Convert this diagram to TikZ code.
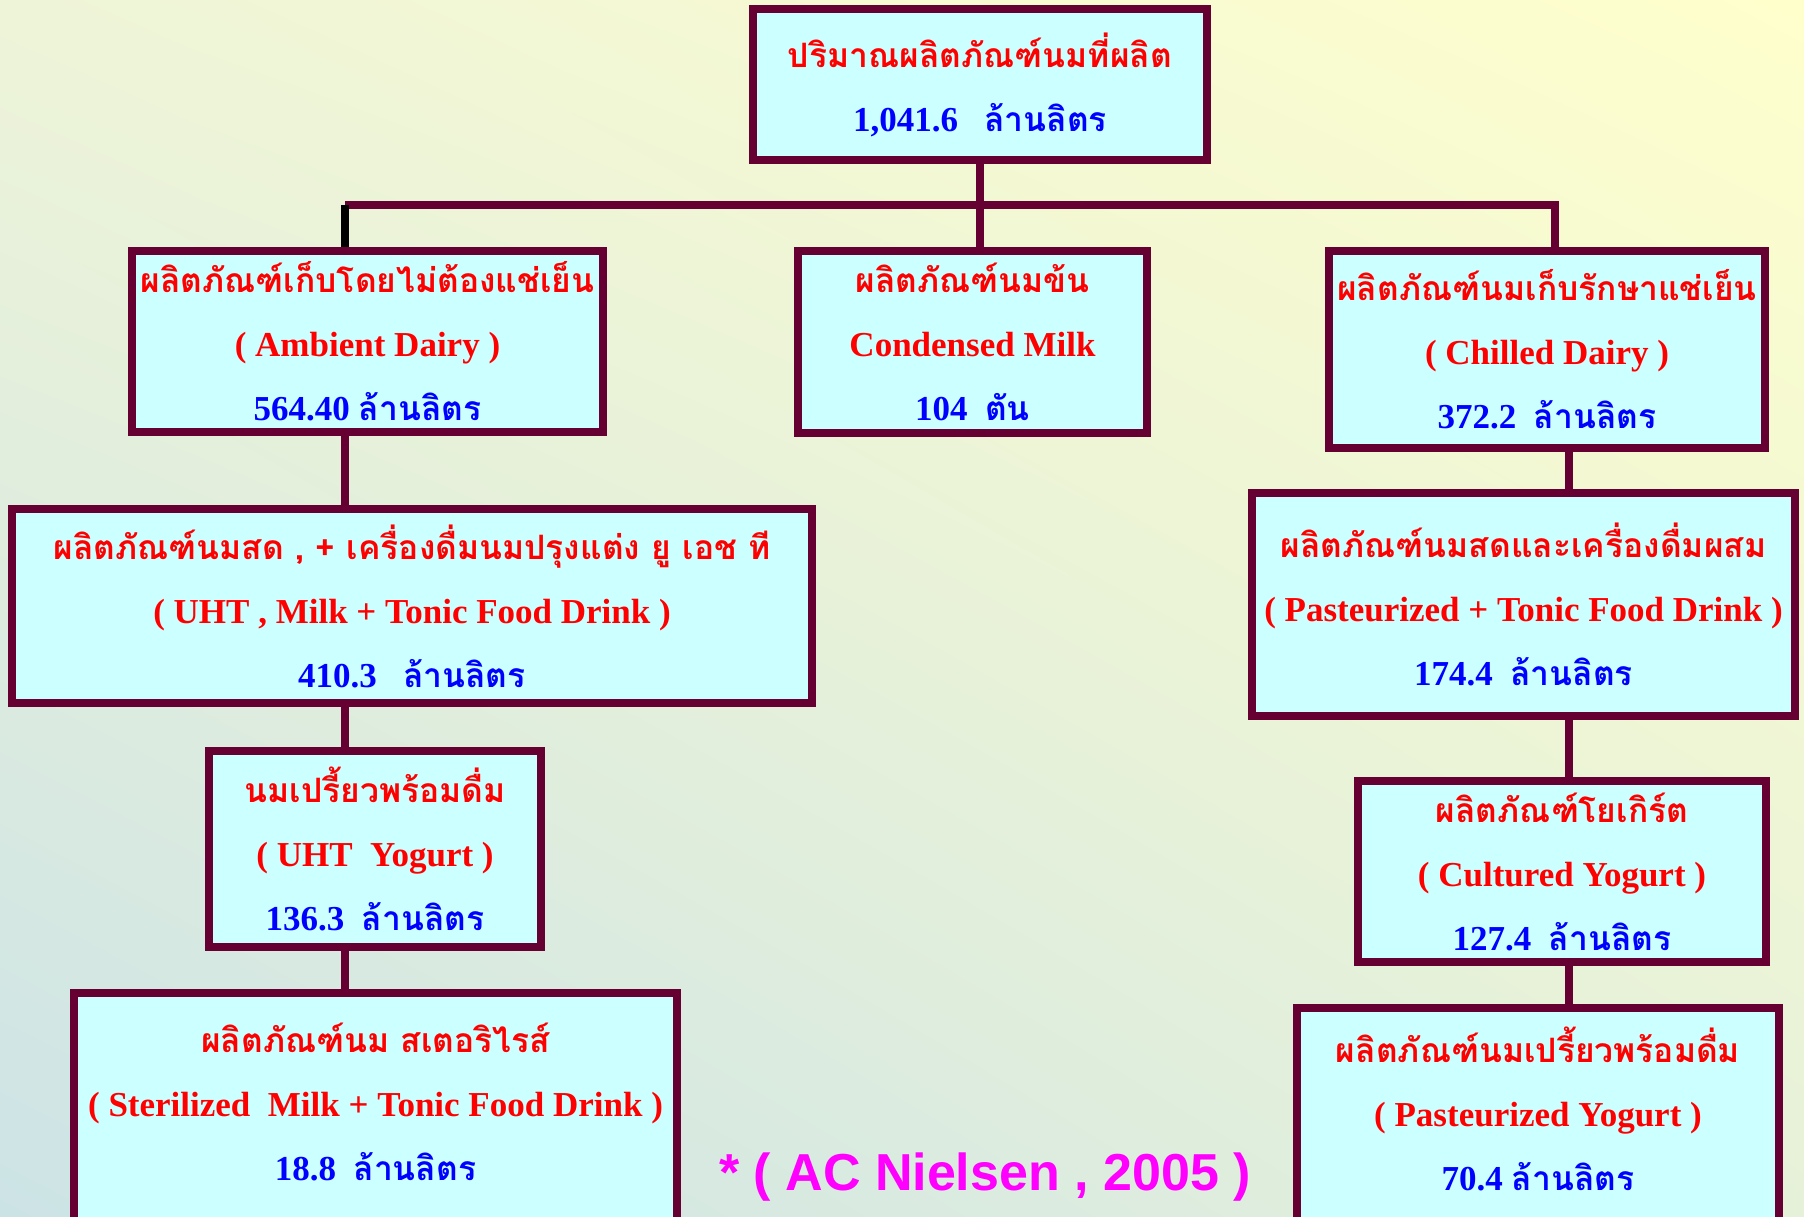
\documentclass[tikz,border=0pt]{standalone}
\usepackage{fontspec}
\usetikzlibrary{shadings}
\setmainfont{Liberation Serif}
\newfontfamily\thaifont[Script=Thai,Scale=0.96]{Loma}
\newfontfamily\citefont{Liberation Sans}

\definecolor{boxline}{HTML}{660033}
\definecolor{boxfill}{HTML}{CCFFFF}
\definecolor{namered}{HTML}{FF0000}
\definecolor{amountblue}{HTML}{0000FF}
\definecolor{citemagenta}{HTML}{FF00FF}
\definecolor{bgul}{HTML}{EEF4D8}
\definecolor{bgur}{HTML}{FFFFCC}
\definecolor{bgll}{HTML}{CCE3E6}
\definecolor{bglr}{HTML}{E6F1DA}

\newcommand\thname[1]{{\color{namered}\thaifont #1}}
\newcommand\enname[1]{{\color{namered}#1}}
\newcommand\amount[2]{{\color{amountblue}#1\thaifont #2}}

\tikzset{
  prodbox/.style={draw=boxline, fill=boxfill, line width=8pt, inner sep=0pt,
    align=center, font=\bfseries\fontsize{35}{64}\selectfont},
  link/.style={draw=boxline, line width=8pt},
}

\begin{document}
\begin{tikzpicture}[x=1pt,y=-1pt]

        \shade[upper left=bgul, upper right=bgur, lower left=bgll, lower right=bglr]
          (0,0) rectangle (1804,1217);
        \useasboundingbox (0,0) rectangle (1804,1217);

        % total
        \node[prodbox, minimum width=454pt, minimum height=151pt] (top) at (980,84.5)
          {\thname{ปริมาณผลิตภัณฑ์นมที่ผลิต}\\ \amount{1,041.6\ \ \ }{ล้านลิตร}};

        % second level
        \node[prodbox, minimum width=471pt, minimum height=181pt] (amb) at (367.5,341.5)
          {\thname{ผลิตภัณฑ์เก็บโดยไม่ต้องแช่เย็น}\\ \enname{( Ambient Dairy )}\\ \amount{564.40 }{ล้านลิตร}};
        \node[prodbox, minimum width=349pt, minimum height=182pt] (cond) at (972.5,342)
          {\thname{ผลิตภัณฑ์นมข้น}\\ \enname{Condensed Milk}\\ \amount{104\ \ }{ตัน}};
        \node[prodbox, minimum width=436pt, minimum height=197pt] (chil) at (1547,349.5)
          {\thname{ผลิตภัณฑ์นมเก็บรักษาแช่เย็น}\\ \enname{( Chilled Dairy )}\\ \amount{372.2\ \ }{ล้านลิตร}};

        % ambient branch
        \node[prodbox, minimum width=800pt, minimum height=194pt] (uhtm) at (412,606)
          {\thname{ผลิตภัณฑ์นมสด , + เครื่องดื่มนมปรุงแต่ง ยู เอช ที}\\ \enname{( UHT , Milk + Tonic Food Drink )}\\ \amount{410.3\ \ \ }{ล้านลิตร}};
        \node[prodbox, minimum width=332pt, minimum height=196pt] (uhty) at (375,849)
          {\thname{นมเปรี้ยวพร้อมดื่ม}\\ \enname{( UHT\ \ Yogurt )}\\ \amount{136.3\ \ }{ล้านลิตร}};
        \node[prodbox, minimum width=603pt, minimum height=235pt, text depth=18pt] (ster) at (375.5,1110.5)
          {\thname{ผลิตภัณฑ์นม สเตอริไรส์}\\ \enname{( Sterilized\ \ Milk + Tonic Food Drink )}\\ \amount{18.8\ \ }{ล้านลิตร}};

        % chilled branch
        \node[prodbox, minimum width=543pt, minimum height=223pt] (past) at (1523.5,604.5)
          {\thname{ผลิตภัณฑ์นมสดและเครื่องดื่มผสม}\\ \enname{( Pasteurized + Tonic Food Drink )}\\ \amount{174.4\ \ }{ล้านลิตร}};
        \node[prodbox, minimum width=408pt, minimum height=181pt] (cult) at (1562,871.5)
          {\thname{ผลิตภัณฑ์โยเกิร์ต}\\ \enname{( Cultured Yogurt )}\\ \amount{127.4\ \ }{ล้านลิตร}};
        \node[prodbox, minimum width=482pt, minimum height=220pt, text depth=18pt] (pyog) at (1538,1118)
          {\thname{ผลิตภัณฑ์นมเปรี้ยวพร้อมดื่ม}\\ \enname{( Pasteurized Yogurt )}\\ \amount{70.4 }{ล้านลิตร}};

        % source
        \node[anchor=base, text=citemagenta, font=\citefont\bfseries\fontsize{52}{60}\selectfont]
          (src) at (985,1190) {* ( AC Nielsen , 2005 )};

        % connectors
        \coordinate (barl) at (345,205.5);
        \coordinate (barr) at (1555,205.5);
        \coordinate (rx) at (1569,470);
        \draw[link] (top.south) -- (top.south |- cond.north);
        \draw[link] (barl) -- (barr) -- (barr |- chil.north);
        \draw[line width=8pt, black] (barl) -- (barl |- amb.north);
        \foreach \a/\b in {amb/uhtm, uhtm/uhty, uhty/ster}
          \draw[link] (\a.south -| barl) -- (\b.north -| barl);
        \foreach \a/\b in {chil/past, past/cult, cult/pyog}
          \draw[link] (\a.south -| rx) -- (\b.north -| rx);

\end{tikzpicture}
\end{document}
